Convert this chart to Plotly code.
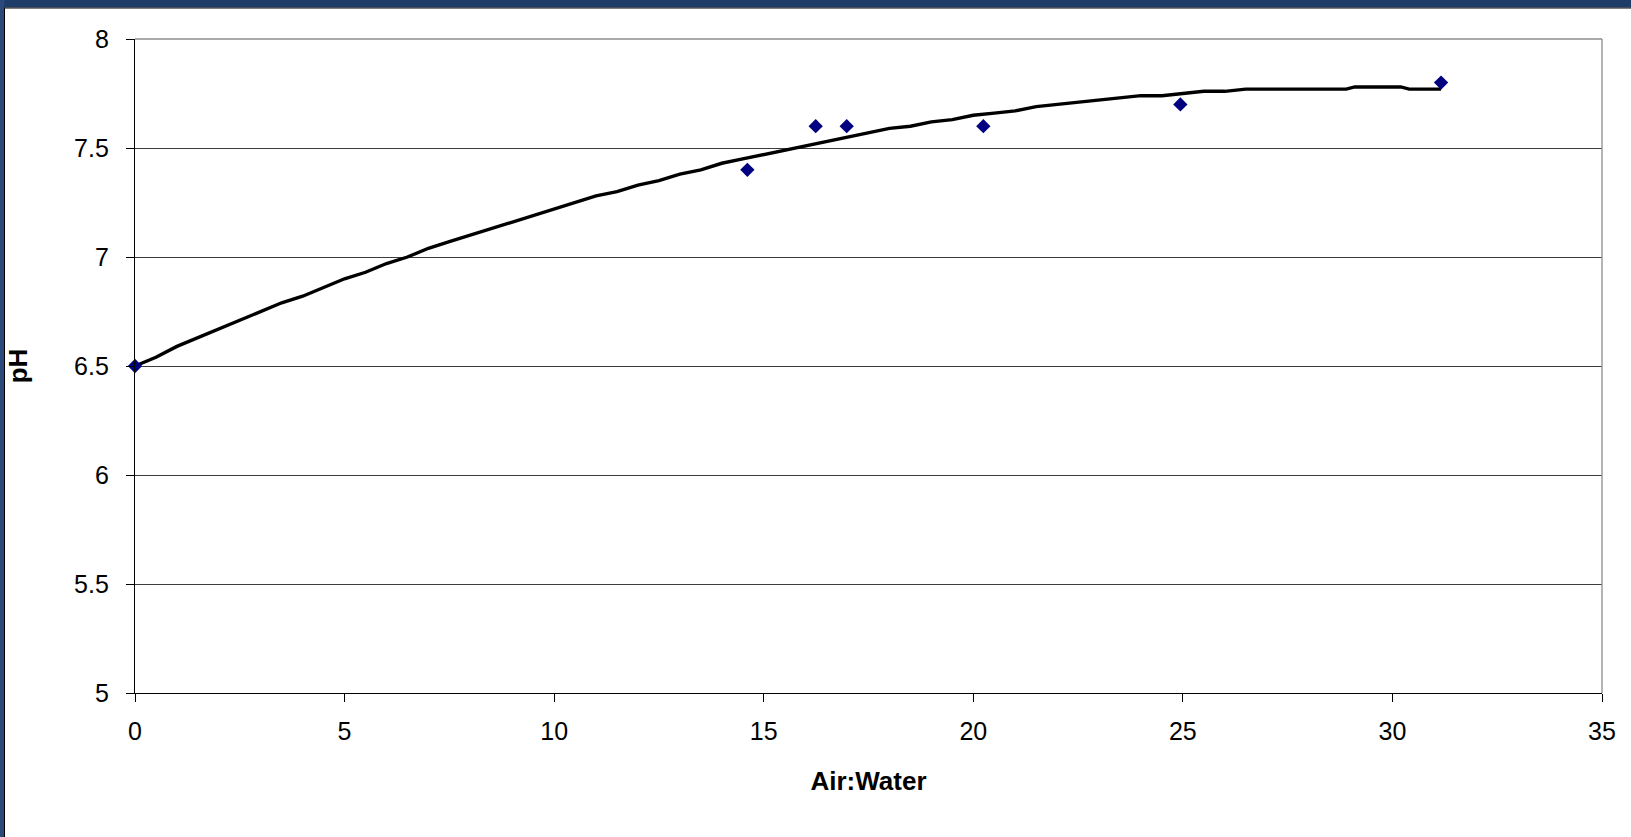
import plotly.graph_objects as go

# Measured points (Air:Water ratio vs pH)
air_water = [0.0, 14.61, 16.24, 16.98, 20.24, 24.94, 31.16]
ph_measured = [6.5, 7.4, 7.6, 7.6, 7.6, 7.7, 7.8]

# Fitted curve
curve_x = [0.0, 0.5, 1.0, 1.5, 2.0, 2.5, 3.0, 3.5, 4.0, 4.5, 5.0, 5.5, 6.0, 6.5,
           7.0, 7.5, 8.0, 8.5, 9.0, 9.5, 10.0, 10.5, 11.0, 11.5, 12.0, 12.5,
           13.0, 13.5, 14.0, 14.5, 15.0, 15.5, 16.0, 16.5, 17.0, 17.5, 18.0,
           18.5, 19.0, 19.5, 20.0, 20.5, 21.0, 21.5, 22.0, 22.5, 23.0, 23.5,
           24.0, 24.5, 25.0, 25.5, 26.0, 26.5, 27.0, 27.5, 28.0, 28.5, 28.9,
           29.1, 29.5, 30.0, 30.2, 30.4, 31.0, 31.16]
curve_y = [6.50, 6.54, 6.59, 6.63, 6.67, 6.71, 6.75, 6.79, 6.82, 6.86, 6.90,
           6.93, 6.97, 7.00, 7.04, 7.07, 7.10, 7.13, 7.16, 7.19, 7.22, 7.25,
           7.28, 7.30, 7.33, 7.35, 7.38, 7.40, 7.43, 7.45, 7.47, 7.49, 7.51,
           7.53, 7.55, 7.57, 7.59, 7.60, 7.62, 7.63, 7.65, 7.66, 7.67, 7.69,
           7.70, 7.71, 7.72, 7.73, 7.74, 7.74, 7.75, 7.76, 7.76, 7.77, 7.77,
           7.77, 7.77, 7.77, 7.77, 7.78, 7.78, 7.78, 7.78, 7.77, 7.77, 7.77]

x_ticks = [0, 5, 10, 15, 20, 25, 30, 35]
y_ticks = [5, 5.5, 6, 6.5, 7, 7.5, 8]

FONT = "Liberation Sans, Arial, sans-serif"

fig = go.Figure()
fig.add_trace(go.Scatter(x=curve_x, y=curve_y, mode="lines",
                         line=dict(color="black", width=3.4),
                         hoverinfo="skip", showlegend=False))
fig.add_trace(go.Scatter(x=air_water, y=ph_measured, mode="markers",
                         marker=dict(symbol="diamond", size=11, color="#000080"),
                         cliponaxis=False, showlegend=False))

shapes = [
    # top blue band
    dict(type="rect", xref="paper", yref="paper", xsizemode="pixel", ysizemode="pixel",
         xanchor=0, yanchor=1, x0=-140, x1=1520, y0=31.5, y1=45,
         fillcolor="#1F3B68", line=dict(width=0), layer="above"),
    dict(type="line", xref="paper", yref="paper", xsizemode="pixel", ysizemode="pixel",
         xanchor=0, yanchor=1, x0=-140, x1=1520, y0=31, y1=31,
         line=dict(color="black", width=1), layer="above"),
    # left blue band
    dict(type="rect", xref="paper", yref="paper", xsizemode="pixel", ysizemode="pixel",
         xanchor=0, yanchor=1, x0=-140, x1=-130.5, y0=-820, y1=45,
         fillcolor="#2B4A7A", line=dict(width=0), layer="above"),
    dict(type="line", xref="paper", yref="paper", xsizemode="pixel", ysizemode="pixel",
         xanchor=0, yanchor=1, x0=-130.5, x1=-130.5, y0=-820, y1=31.5,
         line=dict(color="black", width=1), layer="above"),
    # plot border (top and right) in gray
    dict(type="line", xref="paper", yref="paper", x0=0, x1=1, y0=1, y1=1,
         line=dict(color="#8C8C8C", width=1.3), layer="above"),
    dict(type="line", xref="paper", yref="paper", x0=1, x1=1, y0=0, y1=1,
         line=dict(color="#8C8C8C", width=1.3), layer="above"),
]

fig.update_layout(
    width=1631, height=837,
    margin=dict(l=135, r=29, t=39, b=144),
    paper_bgcolor="white", plot_bgcolor="white",
    font=dict(family=FONT, color="black", size=25),
    shapes=shapes,
    xaxis=dict(range=[0, 35], tickvals=x_ticks, ticktext=[str(v) for v in x_ticks],
               showgrid=False, zeroline=False, showline=True, linecolor="black",
               linewidth=1.3, ticks="outside", ticklen=8, tickcolor="black",
               tickfont=dict(size=25), ticklabelstandoff=8,
               title=dict(text="<b>Air:Water</b>", font=dict(size=26), standoff=27)),
    yaxis=dict(range=[5, 8], tickvals=y_ticks, ticktext=[f"{v:g}" for v in y_ticks],
               showgrid=True, gridcolor="#3C3C3C", gridwidth=1, zeroline=False,
               showline=True, linecolor="black", linewidth=1.3, ticks="outside",
               ticklen=8, tickcolor="black", tickfont=dict(size=25),
               ticklabelstandoff=12,
               title=dict(text="<b>pH</b>", font=dict(size=26), standoff=38)),
)

fig.write_html("out.html", config={"displayModeBar": False},
               post_script="document.body.style.margin='0';document.body.style.overflow='hidden';")
